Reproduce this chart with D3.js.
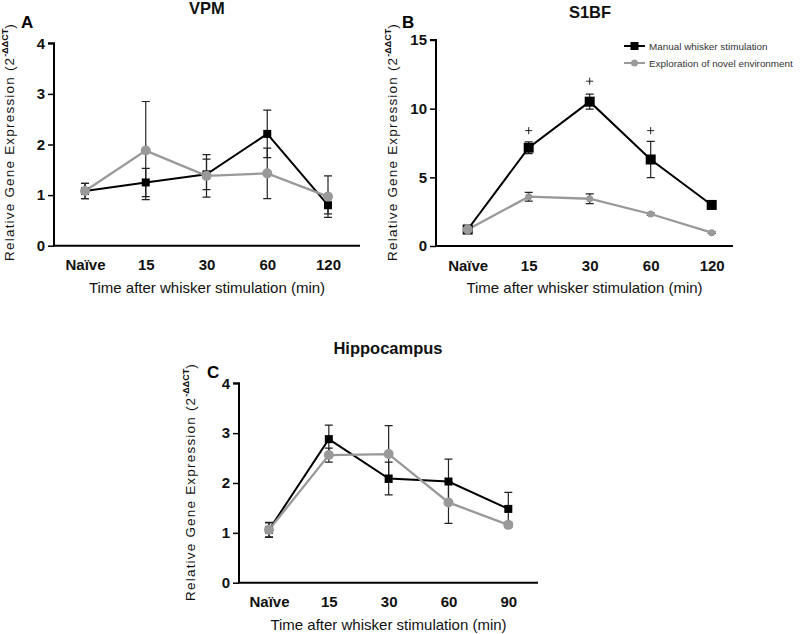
<!DOCTYPE html>
<html><head><meta charset="utf-8">
<script src="https://cdn.jsdelivr.net/npm/d3@7"></script>
<style>
body{margin:0;background:#fff;}
text{font-family:"Liberation Sans",Arial,sans-serif;}
</style></head>
<body><svg id="c" width="800" height="634"></svg>
<script>
// ---- data ----
const categoriesAB = ["Naïve","15","30","60","120"];
const categoriesC  = ["Naïve","15","30","60","90"];
const yTicksA = [0,1,2,3,4];
const yTicksB = [0,5,10,15];
const yTicksC = [0,1,2,3,4];

const vpmManual     = [1.08,1.25,1.41,2.21,0.80];
const vpmManualErr  = [0.15,0.28,0.30,0.47,0.17];
const vpmNovel      = [1.08,1.88,1.38,1.43,0.97];
const vpmNovelErr   = [0.15,0.97,0.42,0.50,0.41];

const s1bfManual    = [1.20,7.16,10.51,6.30,2.99];
const s1bfManualErr = [0.10,0.43,0.55,1.32,0.20];
const s1bfNovel     = [1.20,3.59,3.44,2.33,0.97];
const s1bfNovelErr  = [0.10,0.32,0.35,0.08,0.06];
const s1bfSigY      = [null,8.4,12.0,8.4,null];

const hipManual     = [1.06,2.88,2.09,2.03,1.48];
const hipManualErr  = [0.15,0.28,0.33,0.45,0.33];
const hipNovel      = [1.06,2.56,2.58,1.61,1.16];
const hipNovelErr   = [0.14,0.14,0.57,0.42,0.05];

const legendLabels = ["Manual whisker stimulation","Exploration of novel environment"];

// ---- drawing ----
const svg = d3.select("#c");
const BLACK = "#000", GRAY = "#999";

function panel(o){
  const g = svg.append("g");
  const y = d3.scaleLinear().domain(o.domain).range([o.yBottom,o.yTop]);
  const x = d3.scalePoint().domain(o.cats).range(o.pts);
  // y axis
  const ya = g.append("g").attr("transform",`translate(${o.axisX},0)`)
    .call(d3.axisLeft(y).tickValues(o.ticks).tickSize(6).tickPadding(3).tickFormat(d3.format("d")));
  ya.select(".domain").attr("stroke","#000").attr("stroke-width",2).attr("d",`M-6,${o.yTop}H0V${o.yBottom}`);
  ya.selectAll(".tick line").attr("stroke","#000").attr("stroke-width",1.5);
  ya.selectAll(".tick text").attr("font-size",15).attr("font-weight","bold").attr("fill","#111")
    .attr("font-family","'Liberation Sans',Arial,sans-serif");
  // x axis
  const xa = g.append("g").attr("transform",`translate(0,${o.yBottom})`)
    .call(d3.axisBottom(x).tickSize(0).tickPadding(14));
  xa.select(".domain").attr("stroke","#000").attr("stroke-width",2).attr("d",`M${o.axisX-1},0H${o.right}`);
  xa.selectAll(".tick text").attr("font-size",15).attr("font-weight","bold").attr("fill","#111")
    .attr("font-family","'Liberation Sans',Arial,sans-serif");
  // axis titles
  g.append("text").attr("x",(o.axisX+o.right)/2).attr("y",o.yBottom+47).attr("text-anchor","middle")
    .attr("font-size",15).attr("fill","#111").text("Time after whisker stimulation (min)");
  const yl = g.append("text").attr("transform",`translate(${o.ylX},${o.ylY}) rotate(-90)`)
    .attr("text-anchor","middle").attr("font-size",13.5).attr("letter-spacing",1.2).attr("fill","#111");
  yl.append("tspan").text("Relative Gene Expression (2");
  yl.append("tspan").attr("dy",-6).attr("font-size",9).attr("font-weight","bold").attr("letter-spacing",0).text("-ΔΔCT");
  yl.append("tspan").attr("dy",6).text(")");
  // title & letter
  g.append("text").attr("x",o.titleX).attr("y",o.titleY).attr("text-anchor","middle")
    .attr("font-size",16.5).attr("font-weight","bold").attr("fill","#111").text(o.title);
  g.append("text").attr("x",o.letterX).attr("y",o.letterY).attr("font-size",17).attr("font-weight","bold")
    .attr("fill","#000").text(o.letter);

  const series = [
    {vals:o.manual, err:o.manualErr, color:BLACK, shape:"sq", lw:2},
    {vals:o.novel,  err:o.novelErr,  color:GRAY,  shape:"ci", lw:2.3}
  ];
  // error bars first
  series.forEach(s=>{
    const eb = g.append("g").attr("stroke","#222").attr("stroke-width",1.2).attr("fill","none");
    s.vals.forEach((v,i)=>{
      const cx = x(o.cats[i]);
      const t = y(v+s.err[i]), b = y(v-s.err[i]);
      eb.append("path").attr("d",`M${cx},${t}V${b}M${cx-4},${t}H${cx+4}M${cx-4},${b}H${cx+4}`);
    });
  });
  series.forEach(s=>{
    const line = d3.line().x((d,i)=>x(o.cats[i])).y(d=>y(d));
    g.append("path").datum(s.vals).attr("d",line).attr("fill","none").attr("stroke",s.color).attr("stroke-width",s.lw);
  });
  series.forEach(s=>{
    s.vals.forEach((v,i)=>{
      const cx = x(o.cats[i]), cy = y(v);
      if(s.shape==="sq"){
        const h = o.sq/2;
        g.append("rect").attr("x",cx-h).attr("y",cy-h).attr("width",o.sq).attr("height",o.sq).attr("fill",BLACK);
      } else {
        const r = (i===0 && o.firstR) ? o.firstR : o.r;
        g.append("circle").attr("cx",cx).attr("cy",cy).attr("r",r).attr("fill",GRAY);
      }
    });
  });
  if(o.sig){
    o.sig.forEach((v,i)=>{
      if(v==null) return;
      const cx = x(o.cats[i]), cy = y(v);
      g.append("path").attr("d",`M${cx-3.5},${cy}H${cx+3.5}M${cx},${cy-3.5}V${cy+3.5}`)
        .attr("stroke","#222").attr("stroke-width",1).attr("fill","none");
    });
  }
  return {g,x,y};
}

panel({cats:categoriesAB, domain:[0,4], ticks:yTicksA, axisX:54, right:360, yTop:43.3, yBottom:245.7,
  pts:[85,328], manual:vpmManual, manualErr:vpmManualErr, novel:vpmNovel, novelErr:vpmNovelErr,
  title:"VPM", titleX:207, titleY:14, letter:"A", letterX:21, letterY:28, ylX:14, ylY:142, sq:8, r:5});

panel({cats:categoriesAB, domain:[0,15], ticks:yTicksB, axisX:436, right:733, yTop:40, yBottom:246,
  pts:[467.7,711.7], manual:s1bfManual, manualErr:s1bfManualErr, novel:s1bfNovel, novelErr:s1bfNovelErr,
  title:"S1BF", titleX:590, titleY:18, letter:"B", letterX:402, letterY:28, ylX:397, ylY:142, sq:10, r:3.5, firstR:5,
  sig:s1bfSigY});

panel({cats:categoriesC, domain:[0,4], ticks:yTicksC, axisX:239, right:538, yTop:383.3, yBottom:582.7,
  pts:[269,508.3], manual:hipManual, manualErr:hipManualErr, novel:hipNovel, novelErr:hipNovelErr,
  title:"Hippocampus", titleX:388, titleY:354, letter:"C", letterX:207, letterY:378, ylX:195, ylY:482, sq:8, r:5});

// legend (panel B)
const lg = svg.append("g").attr("transform","translate(624,0)");
[[BLACK,"sq",46],[GRAY,"ci",63]].forEach((d,i)=>{
  lg.append("line").attr("x1",0).attr("x2",21).attr("y1",d[2]).attr("y2",d[2]).attr("stroke",d[0]).attr("stroke-width",2);
  if(d[1]==="sq") lg.append("rect").attr("x",6.5).attr("y",d[2]-4).attr("width",8).attr("height",8).attr("fill",d[0]);
  else lg.append("circle").attr("cx",10.5).attr("cy",d[2]).attr("r",3.5).attr("fill",d[0]);
  lg.append("text").attr("x",25).attr("y",d[2]+3.5).attr("font-size",9.9).attr("fill","#333").text(legendLabels[i]);
});
</script></body></html>
